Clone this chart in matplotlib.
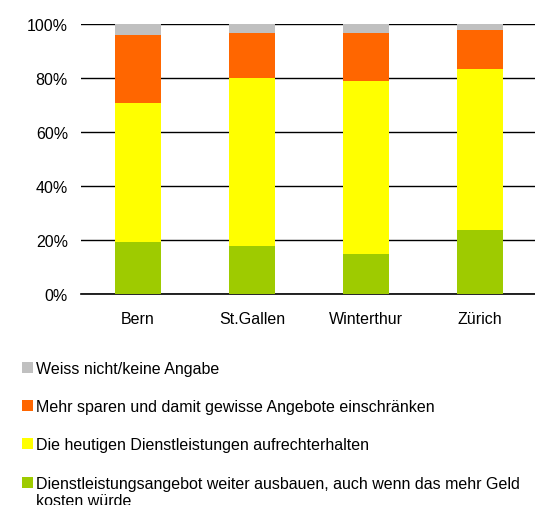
import matplotlib
matplotlib.use("Agg")
import matplotlib.pyplot as plt
from matplotlib.patches import Rectangle
from matplotlib.ticker import PercentFormatter

plt.rcParams['font.family'] = ['Liberation Sans', 'DejaVu Sans']

cities = ["Bern", "St.Gallen", "Winterthur", "Zürich"]
ausbauen = [19.5, 17.9, 14.9, 23.8]
aufrechterhalten = [51.3, 62.1, 64.0, 59.6]
sparen = [25.1, 16.7, 17.8, 14.4]
weiss_nicht = [4.1, 3.3, 3.3, 2.2]

series_labels = [
    "Dienstleistungsangebot weiter ausbauen, auch wenn das mehr Geld\nkosten würde",
    "Die heutigen Dienstleistungen aufrechterhalten",
    "Mehr sparen und damit gewisse Angebote einschränken",
    "Weiss nicht/keine Angabe",
]
series_values = [ausbauen, aufrechterhalten, sparen, weiss_nicht]
colors = ["#9ECB00", "#FFFF00", "#FF6600", "#C0C0C0"]

FS = 11.5
W, H = 535, 506
fig = plt.figure(figsize=(W / 100, H / 100), dpi=100)
ax = fig.add_axes([81 / W, 1 - 295.3 / H, (537 - 81) / W, (295.3 - 25) / H])

x = list(range(len(cities)))
bottom = [0.0] * len(cities)
for vals, col in zip(series_values, colors):
    ax.bar(x, vals, bottom=bottom, width=0.40, color=col, zorder=3, linewidth=0)
    bottom = [b + v for b, v in zip(bottom, vals)]

ax.set_xlim(-0.5, len(cities) - 0.5)
ax.set_ylim(0, 100)
ax.set_yticks([0, 20, 40, 60, 80, 100])
ax.yaxis.set_major_formatter(PercentFormatter(decimals=0))
ax.grid(axis='y', color='black', linewidth=1.0, zorder=0)
ax.set_xticks(x)
ax.set_xticklabels(cities)
ax.tick_params(axis='both', length=0, labelsize=FS, colors='black')
ax.tick_params(axis='y', pad=9.4)
ax.tick_params(axis='x', pad=12)
for s in ['left', 'right', 'top']:
    ax.spines[s].set_visible(False)
ax.spines['bottom'].set_color('black')
ax.spines['bottom'].set_linewidth(1.2)

# legend (reverse order, grey on top)
legend_y = [368.5, 406.5, 444.5, 483.8]
for i, (lab, col) in enumerate(zip(reversed(series_labels), reversed(colors))):
    yc = legend_y[i]
    fig.patches.append(Rectangle((22 / W, 1 - (yc + 5.5) / H), 11 / W, 11 / H,
                                 transform=fig.transFigure, facecolor=col,
                                 edgecolor='none'))
    fig.text(36 / W, 1 - (yc - 6.7) / H, lab, fontsize=FS, va='top', ha='left',
             linespacing=1.2)

fig.savefig("out.png", dpi=100)
